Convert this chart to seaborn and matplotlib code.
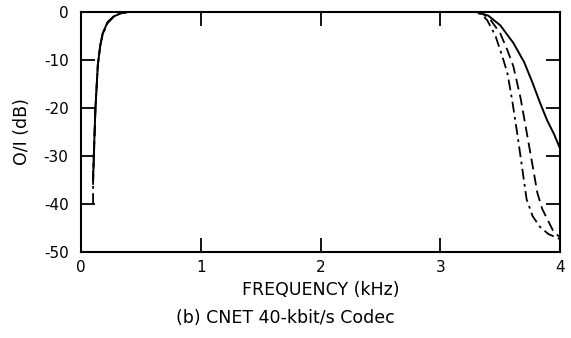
import matplotlib
matplotlib.use("Agg")
import matplotlib.pyplot as plt
import seaborn as sns
import pandas as pd

sns.set_theme(style="white")
plt.rcParams['font.family'] = ['DejaVu Sans']
plt.rcParams['axes.unicode_minus'] = False

# Solid curve
solid_f = [0.10, 0.11, 0.12, 0.14, 0.16, 0.18, 0.22, 0.27, 0.33, 0.40, 1.0, 2.0, 3.0, 3.30, 3.40, 3.50, 3.61, 3.70, 3.77, 3.83, 3.89, 3.95, 4.00]
solid_db = [-35, -27, -20, -11, -7, -4.5, -2.2, -1.0, -0.3, 0, 0, 0, 0, 0, -0.8, -2.8, -6.5, -10.5, -14.8, -18.8, -22.5, -25.5, -28.5]
# Dashed curve
dash_f = [0.10, 0.11, 0.12, 0.14, 0.16, 0.18, 0.22, 0.27, 0.33, 0.40, 1.0, 2.0, 3.0, 3.30, 3.36, 3.42, 3.50, 3.56, 3.61, 3.67, 3.72, 3.77, 3.81, 3.85, 3.89, 3.94, 4.00]
dash_db = [-36, -28, -20, -11, -7, -4.6, -2.2, -1.0, -0.3, 0, 0, 0, 0, 0, -0.5, -1.7, -4.5, -8.0, -11.4, -18.0, -25.0, -32.0, -37.7, -41.0, -43.0, -45.5, -47.0]
# Dash-dot curve
dd_f = [0.10, 0.10, 0.11, 0.12, 0.14, 0.16, 0.18, 0.22, 0.27, 0.33, 0.40, 1.0, 2.0, 3.0, 3.28, 3.34, 3.39, 3.46, 3.52, 3.56, 3.60, 3.64, 3.68, 3.72, 3.77, 3.83, 3.90, 3.97, 4.00]
dd_db = [-40, -34, -27, -20, -11, -7, -4.8, -2.4, -1.1, -0.3, 0, 0, 0, 0, 0, -0.5, -1.7, -5.0, -9.5, -12.8, -18.5, -25.0, -32.0, -39.0, -42.5, -44.7, -46.2, -47.0, -47.3]

x_ticks = [0, 1, 2, 3, 4]
y_ticks = [0, -10, -20, -30, -40, -50]

fig = plt.figure(figsize=(5.71, 3.38), dpi=100)
ax = fig.add_axes([0.142, 0.254, 0.839, 0.711])

df_s = pd.DataFrame({"f": solid_f, "db": solid_db})
df_d = pd.DataFrame({"f": dash_f, "db": dash_db})
df_dd = pd.DataFrame({"f": dd_f, "db": dd_db})

sns.lineplot(data=df_s, x="f", y="db", ax=ax, color="black", lw=1.4, sort=False, estimator=None)
sns.lineplot(data=df_d, x="f", y="db", ax=ax, color="black", lw=1.3, sort=False, estimator=None, linestyle=(0, (6, 3)))
sns.lineplot(data=df_dd, x="f", y="db", ax=ax, color="black", lw=1.3, sort=False, estimator=None, linestyle=(0, (6, 2.5, 1.5, 2.5)))

ax.set_xlim(0, 4)
ax.set_ylim(-50, 0)
ax.set_xticks(x_ticks)
ax.set_xticklabels([str(v) for v in x_ticks])
ax.set_yticks(y_ticks)
ax.set_yticklabels([str(v) for v in y_ticks])
ax.tick_params(axis='both', which='both', direction='in', length=10, width=1.3,
               top=True, right=True, bottom=True, left=True, labelsize=11, colors='black')
ax.tick_params(axis='x', pad=6)
ax.tick_params(axis='y', pad=9)
for s in ax.spines.values():
    s.set_color('black')
    s.set_linewidth(1.5)
ax.set_xlabel("FREQUENCY (kHz)", fontsize=12.5, labelpad=4, color='black')
ax.set_ylabel("O/I (dB)", fontsize=12.5, labelpad=9, color='black')
fig.text(0.5, 0.06, "(b) CNET 40-kbit/s Codec", ha='center', va='center', fontsize=12.5, color='black')

fig.savefig("out.png", dpi=100)
